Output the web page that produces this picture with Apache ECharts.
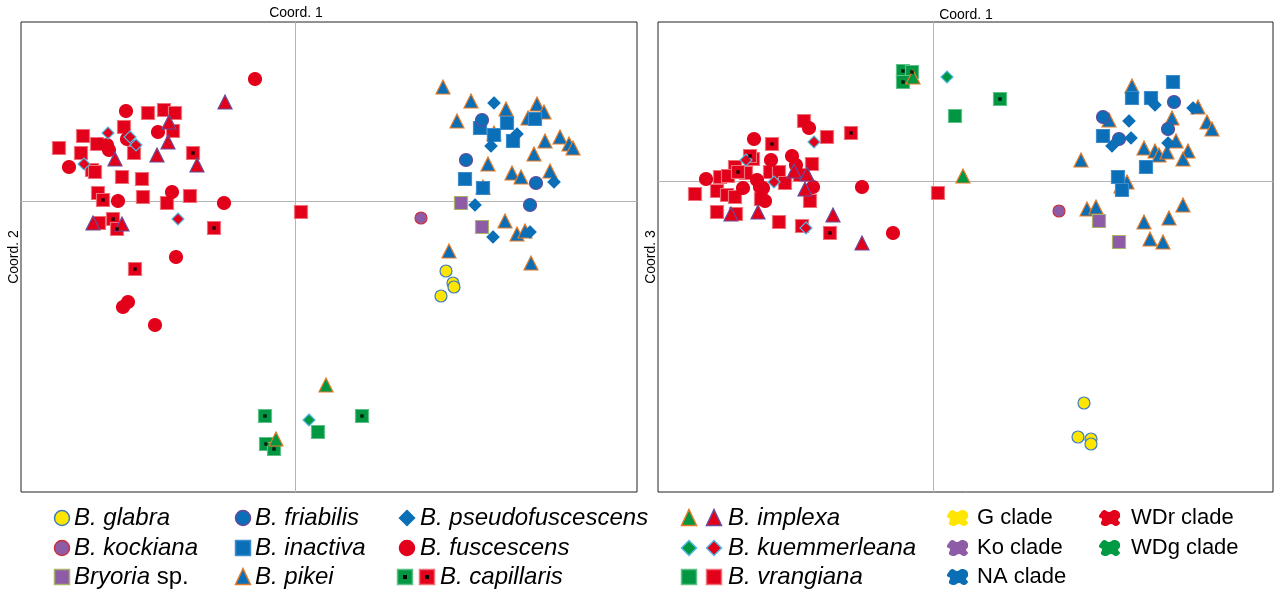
<!DOCTYPE html>
<html><head><meta charset="utf-8">
<script src="https://cdn.jsdelivr.net/npm/echarts@6/dist/echarts.min.js"></script>
<style>html,body{margin:0;background:#fff}#c{width:1274px;height:590px}</style>
</head><body><div id="c"></div>
<script>
// ---------- DATA: left panel (Coord. 1 vs Coord. 2) ----------
const L_fuscescens = [[-1.69,0.90],[-0.40,1.22],[-1.37,0.69],[-1.68,0.62],[-1.88,0.56],[-1.86,0.51],[-2.26,0.34],[-1.77,0.00],[-1.23,0.09],[-0.71,-0.02],[-1.19,-0.56],[-1.67,-1.01],[-1.72,-1.06],[-1.40,-1.24]];
const L_vrangianaR = [[-1.47,0.88],[-1.31,0.91],[-1.20,0.88],[-1.22,0.70],[-1.71,0.74],[-2.12,0.65],[-2.36,0.53],[-2.14,0.48],[-1.98,0.57],[-1.61,0.48],[-2.03,0.31],[-2.00,0.29],[-1.73,0.24],[-1.53,0.22],[-1.97,0.08],[-1.52,0.04],[-1.28,-0.02],[-1.05,0.05],[-1.96,-0.22],[0.06,-0.11]];
const L_capillarisR = [[-1.02,0.48],[-1.92,0.01],[-1.82,-0.18],[-1.78,-0.28],[-0.81,-0.27],[-1.60,-0.68]];
const L_implexaR = [[-0.70,0.99],[-1.26,0.79],[-1.27,0.59],[-1.80,0.42],[-1.38,0.46],[-0.98,0.36],[-2.02,-0.22],[-1.73,-0.23]];
const L_kuemmerleanaR = [[-1.87,0.68],[-1.65,0.64],[-1.59,0.56],[-2.11,0.37],[-1.17,-0.18]];
const L_pikei = [[1.48,1.14],[1.76,1.00],[2.11,0.92],[2.42,0.97],[2.49,0.89],[2.33,0.83],[1.62,0.80],[1.99,0.68],[2.50,0.60],[2.65,0.64],[2.74,0.57],[2.78,0.53],[1.93,0.37],[2.39,0.47],[2.17,0.28],[2.26,0.24],[2.55,0.30],[1.88,0.14],[2.10,-0.20],[2.22,-0.33],[2.30,-0.30],[1.54,-0.50],[2.36,-0.62]];
const L_friabilis = [[1.87,0.81],[1.71,0.41],[2.41,0.18],[2.35,-0.04]];
const L_inactiva = [[1.85,0.73],[2.12,0.78],[2.40,0.82],[1.99,0.66],[2.18,0.60],[1.70,0.22],[1.88,0.13]];
const L_pseudofuscescens = [[1.99,0.98],[2.22,0.67],[1.96,0.55],[2.59,0.19],[1.80,-0.04],[2.35,-0.31],[1.98,-0.36]];
const L_glabra = [[1.51,-0.70],[1.58,-0.82],[1.59,-0.86],[1.46,-0.95]];
const L_kockiana = [[1.26,-0.17]];
const L_bryoria = [[1.66,-0.02],[1.87,-0.26]];
const L_implexaG = [[0.31,-1.84],[-0.19,-2.38]];
const L_capillarisG = [[-0.30,-2.15],[0.67,-2.15],[-0.29,-2.43],[-0.21,-2.48]];
const L_kuemmerleanaG = [[0.14,-2.19]];
const L_vrangianaG = [[0.23,-2.31]];

// ---------- DATA: right panel (Coord. 1 vs Coord. 3) ----------
const R_fuscescens = [[-1.24,0.53],[-1.79,0.42],[-1.62,0.21],[-1.41,0.25],[-1.37,0.16],[-2.27,0.02],[-1.76,0.01],[-1.70,-0.07],[-1.73,-0.06],[-1.90,-0.07],[-1.68,-0.20],[-1.20,-0.06],[-0.71,-0.06],[-0.40,-0.52]];
const R_vrangianaR = [[-1.29,0.60],[-1.06,0.44],[-1.80,0.22],[-1.21,0.17],[-1.98,0.14],[-2.13,0.04],[-2.05,0.05],[-1.87,0.08],[-1.63,0.09],[-1.54,0.09],[-1.48,-0.02],[-1.33,0.06],[-2.16,-0.10],[-2.06,-0.14],[-1.98,-0.16],[-1.72,-0.18],[-2.38,-0.13],[-1.23,-0.20],[-2.16,-0.31],[-1.97,-0.33],[-1.54,-0.41],[-1.31,-0.45],[0.05,-0.12]];
const R_capillarisR = [[-0.82,0.48],[-1.61,0.37],[-1.83,0.25],[-1.95,0.09],[-1.03,-0.52]];
const R_implexaR = [[-1.39,0.10],[-1.26,0.07],[-1.28,-0.08],[-2.02,-0.33],[-1.75,-0.31],[-1.00,-0.34],[-0.71,-0.62]];
const R_kuemmerleanaR = [[-1.19,0.39],[-1.87,0.21],[-1.59,-0.01],[-1.27,-0.47]];
const R_pikei = [[1.99,0.95],[2.65,0.74],[1.76,0.61],[2.39,0.63],[2.74,0.59],[2.79,0.52],[2.43,0.40],[2.11,0.33],[2.22,0.30],[2.26,0.26],[2.34,0.29],[2.55,0.30],[2.50,0.22],[1.48,0.21],[1.94,-0.01],[1.88,-0.05],[1.54,-0.28],[1.63,-0.26],[2.50,-0.24],[2.36,-0.37],[2.11,-0.41],[2.17,-0.58],[2.30,-0.61]];
const R_friabilis = [[2.41,0.79],[1.70,0.64],[2.35,0.52],[1.86,0.42]];
const R_inactiva = [[2.40,0.99],[1.99,0.83],[2.18,0.83],[1.70,0.45],[2.13,0.14],[1.85,0.04],[1.89,-0.09]];
const R_pseudofuscescens = [[2.22,0.76],[2.60,0.73],[1.96,0.60],[1.98,0.43],[1.79,0.35],[2.35,0.38]];
const R_glabra = [[1.51,-2.22],[1.45,-2.56],[1.58,-2.58],[1.58,-2.63]];
const R_kockiana = [[1.26,-0.30]];
const R_bryoria = [[1.66,-0.40],[1.86,-0.61]];
const R_implexaG = [[-0.20,1.04],[0.30,0.05]];
const R_capillarisG = [[-0.30,1.10],[-0.21,1.09],[-0.30,0.99],[0.67,0.82]];
const R_kuemmerleanaG = [[0.14,1.04]];
const R_vrangianaG = [[0.22,0.65]];

// ---------- TEXT ----------
const axisTitles = ['Coord. 1', 'Coord. 2', 'Coord. 1', 'Coord. 3'];
const legendSpecies = [
  [['glabra'], '{i|B. glabra}'], [['kockiana'], '{i|B. kockiana}'], [['bryoria'], '{i|Bryoria} sp.'],
  [['friabilis'], '{i|B. friabilis}'], [['inactiva'], '{i|B. inactiva}'], [['pikei'], '{i|B. pikei}'],
  [['pseudo'], '{i|B. pseudofuscescens}'], [['fuscescens'], '{i|B. fuscescens}'], [['capG','capR'], '{i|B. capillaris}'],
  [['impG','impR'], '{i|B. implexa}'], [['kuG','kuR'], '{i|B. kuemmerleana}'], [['vrG','vrR'], '{i|B. vrangiana}']
];
const legendClades = [['#FFE600','G clade'],['#8E5BA6','Ko clade'],['#0A6EB4','NA clade'],['#E2001A','WDr clade'],['#009A44','WDg clade']];

// ---------- STYLES ----------
const RED='#E2001A', BLUE='#0B6FB7', GREEN='#009642', PURPLE='#8E5BA6', YELLOW='#FFE600';
const ST = {
  glabra:{symbol:'circle',size:12,color:YELLOW,border:'#3F7DBE'},
  kockiana:{symbol:'circle',size:12,color:PURPLE,border:'#C8323C'},
  bryoria:{symbol:'rect',size:13,color:PURPLE,border:'#A9B36A'},
  friabilis:{symbol:'circle',size:13,color:BLUE,border:'#67489A'},
  inactiva:{symbol:'rect',size:13,color:BLUE,border:'#3D8CCB'},
  pikei:{symbol:'triangle',size:14,color:BLUE,border:'#E47A26'},
  pseudo:{symbol:'diamond',size:12,color:BLUE,border:BLUE},
  fuscescens:{symbol:'circle',size:13,color:RED,border:RED},
  capR:{symbol:'rect',size:13,color:RED,border:'#F07078',dot:true},
  capG:{symbol:'rect',size:13,color:GREEN,border:'#5EC286',dot:true},
  impG:{symbol:'triangle',size:14,color:GREEN,border:'#E47A26'},
  impR:{symbol:'triangle',size:14,color:RED,border:'#6B4C9A'},
  kuG:{symbol:'diamond',size:12,color:GREEN,border:'#4FB8E0'},
  kuR:{symbol:'diamond',size:12,color:RED,border:'#4FB8E0'},
  vrG:{symbol:'rect',size:13,color:GREEN,border:'#5EC286'},
  vrR:{symbol:'rect',size:13,color:RED,border:'#F07078'}
};

const panels = [
  [[L_vrangianaR,'vrR'],[L_fuscescens,'fuscescens'],[L_capillarisR,'capR'],[L_implexaR,'impR'],[L_kuemmerleanaR,'kuR'],
   [L_pikei,'pikei'],[L_inactiva,'inactiva'],[L_friabilis,'friabilis'],[L_pseudofuscescens,'pseudo'],[L_glabra,'glabra'],
   [L_kockiana,'kockiana'],[L_bryoria,'bryoria'],[L_capillarisG,'capG'],[L_vrangianaG,'vrG'],[L_kuemmerleanaG,'kuG'],[L_implexaG,'impG']],
  [[R_vrangianaR,'vrR'],[R_fuscescens,'fuscescens'],[R_capillarisR,'capR'],[R_implexaR,'impR'],[R_kuemmerleanaR,'kuR'],
   [R_pikei,'pikei'],[R_inactiva,'inactiva'],[R_friabilis,'friabilis'],[R_pseudofuscescens,'pseudo'],[R_glabra,'glabra'],
   [R_kockiana,'kockiana'],[R_bryoria,'bryoria'],[R_capillarisG,'capG'],[R_vrangianaG,'vrG'],[R_kuemmerleanaG,'kuG'],[R_implexaG,'impG']]
];

const series = [];
panels.forEach((groups, p) => {
  groups.forEach(([data, key]) => {
    const s = ST[key];
    series.push({type:'scatter', xAxisIndex:p, yAxisIndex:p, data, symbol:s.symbol, symbolSize:s.size,
      itemStyle:{color:s.color, borderColor:s.border, borderWidth:1.2, opacity:1}, silent:true});
    if (s.dot) series.push({type:'scatter', xAxisIndex:p, yAxisIndex:p, data, symbol:'rect', symbolSize:3.5,
      itemStyle:{color:'#000'}, silent:true, z:3});
  });
});

function axis(min, max, p) {
  return {type:'value', gridIndex:p, min, max, axisLine:{show:true, onZero:true, lineStyle:{color:'#b4b4b4', width:1}},
    axisTick:{show:false}, axisLabel:{show:false}, splitLine:{show:false}};
}

// ---------- legend (graphic) ----------
const FONT = 'Liberation Sans, Arial, sans-serif';
const FS = 24;
function icon(key, cx, cy) {
  const s = ST[key], st = {fill:s.color, stroke:s.border, lineWidth:1.5};
  const els = [];
  const h = 7.5;
  if (s.symbol === 'circle') els.push({type:'circle', shape:{cx, cy, r:h}, style:st});
  else if (s.symbol === 'rect') els.push({type:'rect', shape:{x:cx-h, y:cy-h, width:2*h, height:2*h}, style:st});
  else if (s.symbol === 'triangle') els.push({type:'polygon', shape:{points:[[cx,cy-h-1],[cx+h,cy+h],[cx-h,cy+h]]}, style:st});
  else els.push({type:'polygon', shape:{points:[[cx,cy-h],[cx+h,cy],[cx,cy+h],[cx-h,cy]]}, style:st});
  if (s.dot) els.push({type:'rect', shape:{x:cx-2, y:cy-2, width:4, height:4}, style:{fill:'#000'}});
  return els;
}
const richI = {i:{fontStyle:'italic', fontSize:FS, fontFamily:FONT, fill:'#000'}};
function label(text, x, y) {
  return {type:'text', x, y, style:{text, fill:'#000', fontSize:FS, fontFamily:FONT, verticalAlign:'middle', align:'left', rich:richI}};
}
const graphics = [];
const rowY = [518, 548, 577];
const colIconX = [[62],[243],[407],[689,714]];
const colTextX = [74, 255, 420, 728];
legendSpecies.forEach(([keys, text], k) => {
  const col = Math.floor(k/3), row = k%3;
  let xs = colIconX[col], tx = colTextX[col];
  if (keys.length === 2 && col === 2) { xs = [405, 427]; tx = 440; }
  keys.forEach((key, j) => graphics.push(...icon(key, xs[j], rowY[row])));
  graphics.push(label(text, tx, rowY[row]));
});
// irregular "blob" icon for clades (relative points, drawn as smooth polygon)
const blobPts = [[-10,-4],[-6,-8],[-1,-6],[4,-8],[9,-6],[10,-1],[8,2],[10,5],[6,8],[1,6],[-4,8],[-9,6],[-8,1],[-11,-1]];
legendClades.forEach(([color, text], k) => {
  const col = Math.floor(k/3), row = k%3;
  const bx = col === 0 ? 958 : 1110, tx = col === 0 ? 977 : 1131;
  graphics.push({type:'polygon', shape:{points:blobPts.map(([a,b]) => [bx+a, rowY[row]+b]), smooth:0.4}, style:{fill:color}});
  graphics.push({type:'text', x:tx, y:rowY[row], style:{text, fill:'#000', fontSize:22, fontFamily:FONT, verticalAlign:'middle', align:'left'}});
});
// axis titles
graphics.push({type:'text', x:296, y:13, style:{text:axisTitles[0], fontSize:14, fontFamily:FONT, fill:'#000', align:'center', verticalAlign:'middle'}});
graphics.push({type:'text', x:14, y:257, rotation:Math.PI/2, style:{text:axisTitles[1], fontSize:14, fontFamily:FONT, fill:'#000', align:'center', verticalAlign:'middle'}});
graphics.push({type:'text', x:966, y:15, style:{text:axisTitles[2], fontSize:14, fontFamily:FONT, fill:'#000', align:'center', verticalAlign:'middle'}});
graphics.push({type:'text', x:651, y:257, rotation:Math.PI/2, style:{text:axisTitles[3], fontSize:14, fontFamily:FONT, fill:'#000', align:'center', verticalAlign:'middle'}});

const chart = echarts.init(document.getElementById('c'), null, {renderer:'canvas'});
chart.setOption({
  animation:false,
  backgroundColor:'#fff',
  grid:[
    {left:21, top:22, width:616, height:470, show:true, borderColor:'#222', borderWidth:1},
    {left:658, top:22, width:615, height:470, show:true, borderColor:'#222', borderWidth:1}
  ],
  xAxis:[axis(-2.74, 3.42, 0), axis(-2.75, 3.40, 1)],
  yAxis:[axis(-2.91, 1.79, 0), axis(-3.11, 1.59, 1)],
  series,
  graphic: graphics
});
</script></body></html>
